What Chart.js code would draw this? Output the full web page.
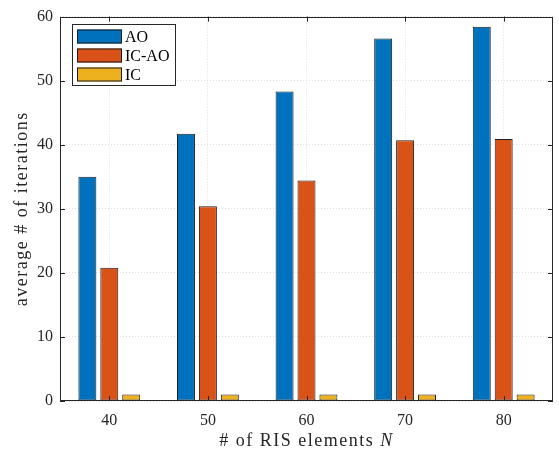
<!DOCTYPE html>
<html>
<head>
<meta charset="utf-8">
<script src="https://cdn.jsdelivr.net/npm/chart.js@4.4.1/dist/chart.umd.min.js"></script>
<style>
html,body{margin:0;padding:0;background:#fff;}
canvas{display:block;}
</style>
</head>
<body>
<canvas id="c" width="559" height="456"></canvas>
<script>
const categories = ['40', '50', '60', '70', '80'];
const seriesNames = ['AO', 'IC-AO', 'IC'];
const aoValues = [35.0, 41.7, 48.3, 56.6, 58.4];
const icaoValues = [20.8, 30.4, 34.4, 40.7, 40.9];
const icValues = [1, 1, 1, 1, 1];
const yTicks = [0, 10, 20, 30, 40, 50, 60];
const xTitle = ['# of RIS elements ', 'N'];
const yTitle = 'average # of iterations';

const colors = ['#0072BD', '#D95319', '#EDB120'];
const FONT = '"Liberation Serif", "DejaVu Serif", serif';
const AX = '#262626';

const matlabPlugin = {
  id: 'matlab',
  afterDatasetsDraw(chart) {
    const ctx = chart.ctx;
    const a = chart.chartArea;
    const xs = chart.scales.x, ys = chart.scales.y;
    ctx.save();
    // box
    ctx.strokeStyle = AX;
    ctx.lineWidth = 1;
    ctx.strokeRect(Math.round(a.left) + 0.5, Math.round(a.top) + 0.5,
      Math.round(a.right - a.left) - 1, Math.round(a.bottom - a.top) - 1);
    // inner ticks
    const tl = 5;
    ctx.beginPath();
    categories.forEach((c, i) => {
      const x = Math.round(xs.getPixelForValue(i)) + 0.5;
      ctx.moveTo(x, a.bottom); ctx.lineTo(x, a.bottom - tl);
      ctx.moveTo(x, a.top); ctx.lineTo(x, a.top + tl);
    });
    yTicks.forEach(v => {
      const y = Math.round(ys.getPixelForValue(v)) + 0.5;
      ctx.moveTo(a.left, y); ctx.lineTo(a.left + tl, y);
      ctx.moveTo(a.right, y); ctx.lineTo(a.right - tl, y);
    });
    ctx.stroke();

    // legend
    const lx = 72.5, ly = 24.5, lw = 103, lh = 61;
    ctx.fillStyle = '#fff';
    ctx.fillRect(lx, ly, lw, lh);
    ctx.strokeStyle = AX;
    ctx.strokeRect(lx, ly, lw, lh);
    const centers = [36.5, 55.5, 74.5];
    chart.data.datasets.forEach((ds, i) => {
      const cy = centers[i];
      ctx.fillStyle = ds.backgroundColor;
      ctx.fillRect(77, cy - 7, 45, 14);
      ctx.strokeStyle = '#1a1a1a';
      ctx.strokeRect(77.5, cy - 6.5, 44, 13);
      ctx.fillStyle = '#000';
      ctx.font = '16px ' + FONT;
      ctx.textBaseline = 'middle';
      ctx.textAlign = 'left';
      ctx.fillText(ds.label, 125, cy + 1);
    });

    // axis titles
    ctx.fillStyle = AX;
    ctx.letterSpacing = '1.5px';
    ctx.font = '18px ' + FONT;
    ctx.textBaseline = 'middle';
    const w1 = ctx.measureText(xTitle[0]).width;
    ctx.font = 'italic 18px ' + FONT;
    const w2 = ctx.measureText(xTitle[1]).width;
    const cx = (a.left + a.right) / 2;
    let x0 = cx - (w1 + w2) / 2;
    ctx.textAlign = 'left';
    ctx.font = '18px ' + FONT;
    ctx.fillText(xTitle[0], x0, 441);
    ctx.font = 'italic 18px ' + FONT;
    ctx.fillText(xTitle[1], x0 + w1, 441);

    ctx.translate(22, (a.top + a.bottom) / 2);
    ctx.rotate(-Math.PI / 2);
    ctx.textAlign = 'center';
    ctx.font = '18px ' + FONT;
    ctx.fillText(yTitle, 0, 0);
    ctx.restore();
  }
};

const valueSets = [aoValues, icaoValues, icValues];
new Chart(document.getElementById('c'), {
  type: 'bar',
  data: {
    labels: categories,
    datasets: seriesNames.map((n, i) => ({
      label: n,
      data: valueSets[i],
      backgroundColor: colors[i],
      borderColor: '#1f1f1f',
      borderWidth: 1,
      borderSkipped: false,
      categoryPercentage: 0.667,
      barPercentage: 0.82
    }))
  },
  options: {
    responsive: false,
    devicePixelRatio: 1,
    animation: false,
    layout: { padding: { top: 13, right: 6, left: 0, bottom: 0 } },
    plugins: { legend: { display: false }, tooltip: { enabled: false } },
    scales: {
      x: {
        offset: true,
        grid: { offset: false, drawTicks: false, color: '#dedede', lineWidth: 1 },
        border: { display: false, dash: [1, 2] },
        ticks: { color: AX, font: { family: FONT, size: 16 }, padding: 10 },
        afterFit(s) { s.height = 55; }
      },
      y: {
        min: 0, max: 60,
        afterBuildTicks(s) { s.ticks = yTicks.map(v => ({ value: v })); },
        grid: { drawTicks: false, color: '#dedede', lineWidth: 1 },
        border: { display: false, dash: [1, 2] },
        ticks: { color: AX, font: { family: FONT, size: 16 }, padding: 7 },
        afterFit(s) { s.width = 60; }
      }
    }
  },
  plugins: [matlabPlugin]
});
</script>
</body>
</html>
